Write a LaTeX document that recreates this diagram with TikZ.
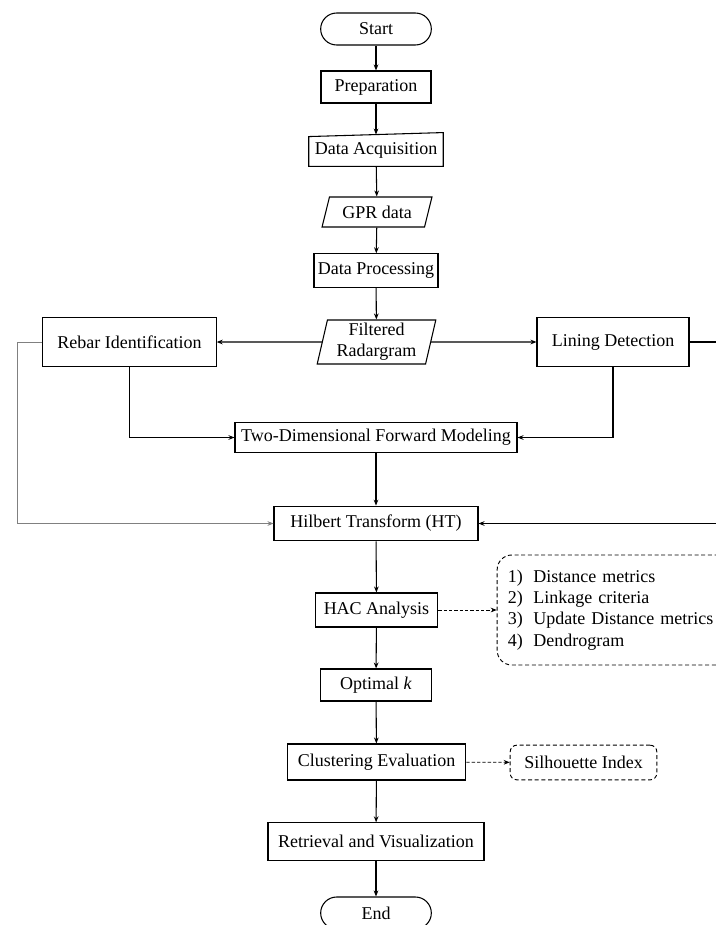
\documentclass[tikz,border=0pt]{standalone}
\usepackage{fontspec}
\setmainfont{Liberation Serif}
\usetikzlibrary{arrows.meta,shapes.geometric}

\tikzset{
  box/.style={draw, line width=0.8pt, inner sep=2pt, font=\fontsize{13.5}{16}\selectfont},
  plain/.style={inner sep=2pt, font=\fontsize{13.5}{16}\selectfont},
  term/.style={box, rounded corners=12pt},
  iodata/.style={box, trapezium, trapezium stretches=true},
  note/.style={box, line width=0.7pt, dash pattern=on 3pt off 2pt, rounded corners=#1},
  flow/.style={-{Stealth[length=4.5pt,width=3.5pt]}, line width=0.8pt},
  dflow/.style={flow, line width=0.6pt, dash pattern=on 2.5pt off 1.5pt},
}

\begin{document}
\begin{tikzpicture}[x=0.75pt, y=-0.75pt]
    \useasboundingbox (0,0) rectangle (716,925);

    %% main column
    \node [term, minimum width=83pt, minimum height=24pt]  (start) at (376,29)  {Start};
    \node [box, minimum width=82.5pt, minimum height=24pt] (prep)  at (376,87)  {Preparation};
    \node [plain, minimum width=100.5pt, minimum height=23.5pt] (acq) at (376,150.5) {Data Acquisition};
    \node [iodata, trapezium left angle=72, trapezium right angle=108,
           minimum width=82.5pt, minimum height=22.5pt] (gpr) at (377,212) {GPR data};
    \node [box, minimum width=93pt, minimum height=25pt]   (proc)  at (376,270.5) {Data Processing};
    \node [iodata, trapezium left angle=78, trapezium right angle=102, align=center,
           minimum width=89pt, minimum height=33pt, inner sep=1pt] (filt) at (376.5,342) {Filtered\\Radargram};

    %% branches
    \node [box, minimum width=130pt, minimum height=37pt]  (rebar) at (129.5,342) {Rebar Identification};
    \node [box, minimum width=114pt, minimum height=37pt]  (lining) at (613,342) {Lining Detection};
    \node [box, minimum width=211.5pt, minimum height=23pt] (fwd)  at (376,437.5) {Two-Dimensional Forward Modeling};
    \node [box, minimum width=153pt, minimum height=26pt]  (hilb)  at (376,523.5) {Hilbert Transform (HT)};

    %% clustering
    \node [box, minimum width=92pt, minimum height=25.5pt] (hac)   at (376.5,610) {HAC Analysis};
    \node [box, minimum width=83pt, minimum height=24pt]   (optk)  at (376,685) {Optimal \textit{k}};
    \node [box, minimum width=134pt, minimum height=27pt]  (clust) at (376.5,762) {Clustering Evaluation};
    \node [box, minimum width=162pt, minimum height=28pt]  (retr)  at (376,841.5) {Retrieval and Visualization};
    \node [term, minimum width=83pt, minimum height=24pt]  (stop)  at (376,913) {End};

    %% notes
    \node [note=11pt, minimum height=82.5pt, text width=166pt, inner xsep=8pt, align=left] (hacnote) at (618.5,610)
          {1)\hspace{8pt}Distance metrics\\2)\hspace{8pt}Linkage criteria\\3)\hspace{8pt}Update Distance metrics\\4)\hspace{8pt}Dendrogram};
    \node [note=5pt, minimum width=110pt, minimum height=26pt] (sil) at (583.5,762.5) {Silhouette Index};

    %% manual input outline
    \draw [line width=0.8pt] (acq.south west) -- (acq.south east) -- ([yshift=1.5pt]acq.north east)
          -- ([yshift=-1.5pt]acq.north west) -- cycle;

    %% loop ends
    \coordinate (lft) at (17,342);
    \coordinate (rgt) at (730,342);

    %% edges
    \draw [flow] (start) -- (prep);
    \draw [flow] (prep) -- (acq);
    \draw [flow] (acq) -- (gpr);
    \draw [flow] (gpr) -- (proc);
    \draw [flow] (proc) -- (filt);
    \draw [flow] (filt) -- (rebar);
    \draw [flow] (filt) -- (lining);
    \draw [flow] (rebar.south) |- (fwd.west);
    \draw [flow] (lining.south) |- (fwd.east);
    \draw [flow] (fwd) -- (hilb);
    \draw [flow, line width=0.5pt, draw=gray] (rebar.west) -- (lft) |- (hilb.west);
    \draw [flow] (lining.east) -- (rgt) |- (hilb.east);
    \draw [flow] (hilb) -- (hac);
    \draw [flow] (hac) -- (optk);
    \draw [flow] (optk) -- (clust);
    \draw [flow] (clust) -- (retr);
    \draw [flow] (retr) -- (stop);
    \draw [dflow] (hac) -- (hacnote);
    \draw [dflow] (clust) -- (sil);
\end{tikzpicture}
\end{document}
